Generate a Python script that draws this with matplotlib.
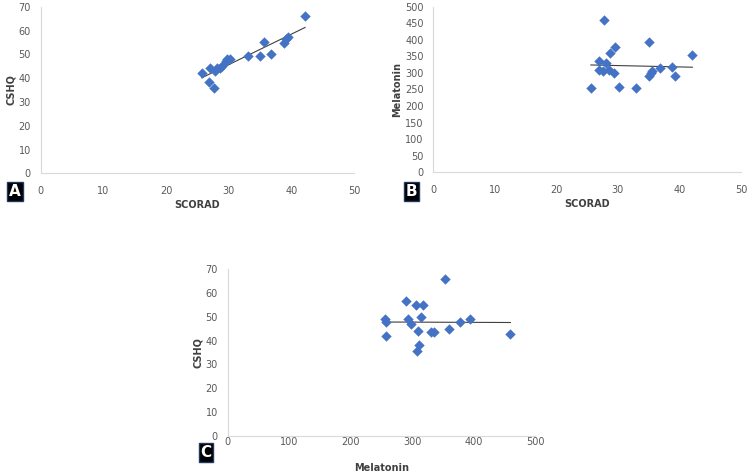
import numpy as np
import matplotlib
matplotlib.use('Agg')
import matplotlib.pyplot as plt

# Panel A: SCORAD vs CSHQ
scorad_a = [25.7, 27.0, 26.9, 27.6, 27.8, 28.1, 28.6, 28.9, 29.5, 29.7, 30.2,
            33.1, 35.0, 35.6, 36.8, 38.8, 39.1, 39.4, 42.2]
cshq_a = [42.1, 44.1, 38.2, 36.0, 43.1, 44.1, 44.1, 45.2, 47.3, 48.2, 48.2,
          49.1, 49.1, 55.0, 50.1, 54.9, 56.3, 57.1, 66.2]

# Panel B: SCORAD vs Melatonin
scorad_b = [25.6, 27.0, 26.9, 27.8, 27.5, 28.1, 28.6, 28.7, 29.5, 29.4,
            30.1, 33.0, 35.0, 35.0, 35.3, 35.6, 36.8, 38.8, 39.3, 42.1]
melatonin_b = [256, 335, 309, 460, 307, 331, 309, 359, 378, 300,
               258, 255, 394, 292, 299, 307, 316, 319, 291, 354]

# Panel C: Melatonin vs CSHQ
melatonin_c = [256, 258, 257, 290, 293, 299, 306, 310, 311, 308, 315,
               318, 331, 335, 354, 360, 378, 395, 460]
cshq_c = [49.0, 47.8, 42.1, 56.7, 48.9, 46.8, 54.9, 43.9, 38.1, 35.8, 49.7,
          54.9, 43.7, 43.7, 65.9, 44.9, 47.9, 48.9, 42.9]

W, H = 753, 472
fig = plt.figure(figsize=(W / 100, H / 100), dpi=100)

blue = '#4472C4'
grey = '#595959'


def panel(left, right, top, bottom, x, y, xmax, xstep, ymax, ystep,
          xlabel, ylabel, xpad, xlpad):
    ax = fig.add_axes([left / W, 1 - bottom / H, (right - left) / W, (bottom - top) / H])
    ax.scatter(x, y, marker='D', s=28, color=blue, zorder=3, linewidths=0)
    k, b = np.polyfit(x, y, 1)
    xs = np.array([min(x), max(x)])
    ax.plot(xs, k * xs + b, color='#404040', lw=0.8, zorder=2)
    ax.set_xlim(0, xmax)
    ax.set_ylim(0, ymax)
    ax.set_xticks(np.arange(0, xmax + 1, xstep))
    ax.set_yticks(np.arange(0, ymax + 1, ystep))
    for s in ['top', 'right']:
        ax.spines[s].set_visible(False)
    for s in ['left', 'bottom']:
        ax.spines[s].set_color('#d9d9d9')
        ax.spines[s].set_linewidth(0.8)
    ax.tick_params(length=0, labelsize=7, colors=grey)
    ax.tick_params(axis='x', pad=xpad)
    ax.tick_params(axis='y', pad=7)
    ax.set_xlabel(xlabel, fontsize=7, fontweight='bold', color='#404040', labelpad=xlpad)
    ax.set_ylabel(ylabel, fontsize=7, fontweight='bold', color='#404040', labelpad=2)
    ax.set_facecolor('none')
    return ax


panel(40.7, 354, 6.7, 173.3, scorad_a, cshq_a, 50, 10, 70, 10, 'SCORAD', 'CSHQ', 9, 3)
panel(433.3, 741, 6.7, 172.3, scorad_b, melatonin_b, 50, 10, 500, 50, 'SCORAD', 'Melatonin', 9, 3)
panel(227.7, 535, 269, 436, melatonin_c, cshq_c, 500, 100, 70, 10, 'Melatonin', 'CSHQ', 1, 11)

box = dict(boxstyle='square,pad=0.12', facecolor='black', edgecolor='#1f3864', lw=1)
for lab, px, py in [('A', 15, 191.5), ('B', 411.7, 191.5), ('C', 206, 452.5)]:
    fig.text(px / W, 1 - py / H, lab, color='white', fontsize=11, fontweight='bold',
             ha='center', va='center', bbox=box)

fig.savefig('out.png', dpi=100)
